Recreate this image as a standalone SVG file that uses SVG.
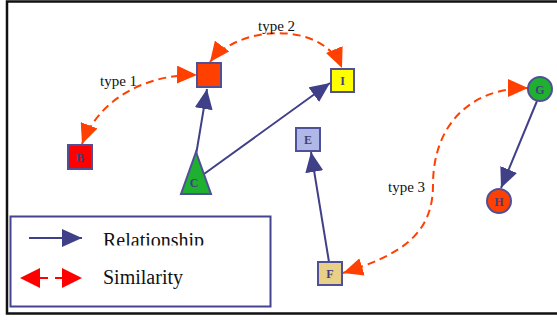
<svg xmlns="http://www.w3.org/2000/svg" width="557" height="320" viewBox="0 0 557 320">
<defs>
<style>
.node{stroke:#505098;stroke-width:2}
.lbl{font-family:"Liberation Serif",serif;font-weight:bold;font-size:12px;fill:#404080;text-anchor:middle}
.rel{stroke:#404088;stroke-width:2;fill:none}
.sim{stroke:#FF4000;stroke-width:2;fill:none;stroke-dasharray:8,5}
.t{font-family:"Liberation Serif",serif;font-size:15px;fill:#111}
.leg{font-family:"Liberation Serif",serif;font-size:20px;fill:#111}
</style>
<marker id="mb" viewBox="0 0 20 18" refX="20" refY="9" markerWidth="20" markerHeight="18" markerUnits="userSpaceOnUse" orient="auto">
<path d="M0,0 L20,9 L0,18 z" fill="#404088"/>
</marker>
<marker id="mo" viewBox="0 0 20 18" refX="20" refY="9" markerWidth="20" markerHeight="18" markerUnits="userSpaceOnUse" orient="auto-start-reverse">
<path d="M0,0 L20,9 L0,18 z" fill="#FF4000"/>
</marker>
<clipPath id="cl"><rect x="90" y="220" width="150" height="25.5"/></clipPath>
</defs>
<rect width="557" height="320" fill="#fff"/>
<path d="M557,1.5 H7 V313.5 H557" fill="none" stroke="#111" stroke-width="2.5"/>
<g id="connectors">
<line class="rel" x1="196" y1="155" x2="207" y2="89" marker-end="url(#mb)"/>
<line class="rel" x1="204" y1="174" x2="330" y2="83" marker-end="url(#mb)"/>
<line class="rel" x1="329" y1="262" x2="311" y2="152" marker-end="url(#mb)"/>
<line class="rel" x1="537" y1="101" x2="501" y2="188" marker-end="url(#mb)"/>
<path class="sim" d="M82,144 C100,97 148,74 197,75" marker-start="url(#mo)" marker-end="url(#mo)"/>
<path class="sim" d="M210,62 C238,25 322,20 342,68" marker-start="url(#mo)" marker-end="url(#mo)"/>
<path class="sim" d="M343,273 C400,255 433,235 433,185 C433,125 470,88 528,88" marker-start="url(#mo)" marker-end="url(#mo)"/>
<text class="t" x="100" y="86">type 1</text>
<text class="t" x="258" y="31">type 2</text>
<text class="t" x="388" y="192">type 3</text>
</g>
<g id="nodeA"><rect class="node" x="197" y="63" width="24" height="24" fill="#FF4000"/></g>
<g id="nodeI"><rect class="node" x="331" y="69" width="23" height="23" fill="#FFFF00"/><text class="lbl" x="342.5" y="85">I</text></g>
<g id="nodeB"><rect class="node" x="68" y="145" width="24" height="24" fill="#FF0000"/><text class="lbl" x="80" y="161.5">B</text></g>
<g id="nodeC"><path class="node" d="M196,152 L211,194 L181,194 z" fill="#20B030"/><text class="lbl" x="194" y="186.5">C</text></g>
<g id="nodeE"><rect class="node" x="296" y="128" width="24" height="23" fill="#B0B8E8"/><text class="lbl" x="308" y="144">E</text></g>
<g id="nodeF"><rect class="node" x="318" y="262" width="24" height="23" fill="#E8D088"/><text class="lbl" x="330" y="278">F</text></g>
<g id="nodeG"><circle class="node" cx="540" cy="89" r="12" fill="#20B030"/><text class="lbl" x="540" y="93.5">G</text></g>
<g id="nodeH"><circle class="node" cx="499" cy="201" r="12" fill="#FF4000"/><text class="lbl" x="499" y="205.5">H</text></g>
<g id="legend">
<rect x="10.5" y="216.5" width="260" height="90" fill="#fff" stroke="#444490" stroke-width="2"/>
<line x1="29" y1="238" x2="82" y2="238" stroke="#404088" stroke-width="2" marker-end="url(#mb)"/>
<path d="M20,278 L40,268 L40,288 z M82,278 L62,268 L62,288 z" fill="#FF0000"/>
<path d="M40,278 H48 M55,278 H62" stroke="#FF0000" stroke-width="2"/>
<text class="leg" x="103" y="247" clip-path="url(#cl)">Relationship</text>
<text class="leg" x="103" y="284">Similarity</text>
</g>
</svg>
